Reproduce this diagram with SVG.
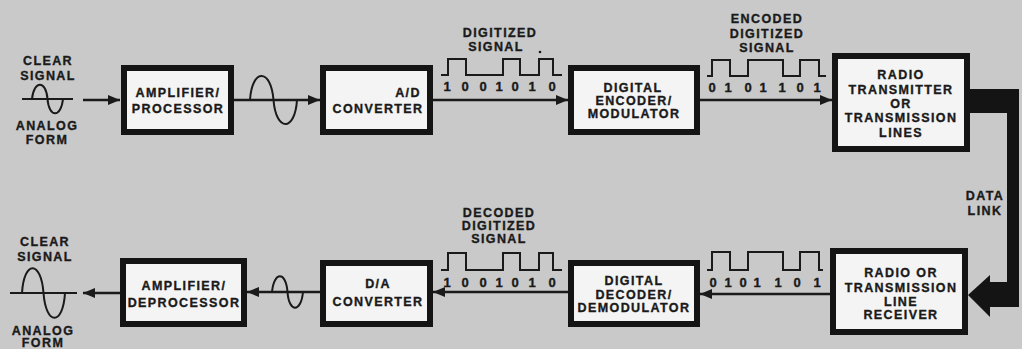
<svg xmlns="http://www.w3.org/2000/svg" width="1022" height="349" viewBox="0 0 1022 349">
<style>
.bg{fill:#c9c9c9}
.box{fill:#f4f4f4;stroke:#141414;stroke-width:6}
.t{font-family:"Liberation Sans",Arial,sans-serif;font-weight:bold;font-size:12.5px;letter-spacing:1.4px;fill:#1a1a1a;stroke:#1a1a1a;stroke-width:0.35;text-anchor:middle}
.d{font-family:"Liberation Sans",Arial,sans-serif;font-weight:bold;font-size:13px;fill:#1a1a1a;stroke:#1a1a1a;stroke-width:0.35;text-anchor:middle}
.ln{fill:none;stroke:#1a1a1a;stroke-width:2.5}
.wv{fill:none;stroke:#1a1a1a;stroke-width:2}
.link{fill:#141414}
</style>
<defs>
<marker id="ah" markerUnits="userSpaceOnUse" markerWidth="13" markerHeight="11" refX="12" refY="5" orient="auto">
<path d="M0,0 L12,5 L0,10 z" fill="#1a1a1a"/>
</marker>
</defs>
<rect class="bg" x="0" y="0" width="1022" height="349"/>

<g id="clear-in">
<text class="t" x="48" y="65">CLEAR</text>
<text class="t" x="48" y="80">SIGNAL</text>
<path class="wv" d="M22,99 H73"/>
<path class="wv" d="M32,99 C34,80 46,80 47.5,99 C49,118 61,118 63,99"/>
<text class="t" x="47" y="130">ANALOG</text>
<text class="t" x="47" y="144">FORM</text>
</g>

<g id="amp-proc">
<rect class="box" x="124" y="68" width="107" height="64"/>
<text class="t" x="178" y="97">AMPLIFIER/</text>
<text class="t" x="178" y="113">PROCESSOR</text>
</g>

<g id="ad-conv">
<rect class="box" x="323" y="68" width="107" height="64"/>
<text class="t" x="408" y="97">A/D</text>
<text class="t" x="378" y="113">CONVERTER</text>
</g>

<g id="digitized-signal">
<text class="t" x="500" y="37">DIGITIZED</text>
<text class="t" x="496" y="51">SIGNAL</text>
<circle cx="540" cy="52" r="1.3" fill="#1a1a1a"/>
<path class="wv" d="M441,75 H448 V59 H466 V75 H503 V59 H520 V75 H539 V59 H553 V75 H562"/>
<text class="d" x="447" y="91">1</text><text class="d" x="465" y="91">0</text><text class="d" x="483" y="91">0</text><text class="d" x="499" y="91">1</text><text class="d" x="515" y="91">0</text><text class="d" x="532" y="91">1</text><text class="d" x="552" y="91">0</text>
</g>

<g id="encoder">
<rect class="box" x="571" y="68" width="126" height="64"/>
<text class="t" x="633" y="92">DIGITAL</text>
<text class="t" x="634" y="105">ENCODER/</text>
<text class="t" x="634" y="118">MODULATOR</text>
</g>

<g id="encoded-signal">
<text class="t" x="767" y="23">ENCODED</text>
<text class="t" x="767" y="38">DIGITIZED</text>
<text class="t" x="767" y="52">SIGNAL</text>
<path class="wv" d="M707,76 H712 V60 H730 V76 H748 V60 H783 V76 H800 V60 H819 V76 H826"/>
<text class="d" x="712" y="92">0</text><text class="d" x="728" y="92">1</text><text class="d" x="748" y="92">0</text><text class="d" x="763" y="92">1</text><text class="d" x="782" y="92">1</text><text class="d" x="800" y="92">0</text><text class="d" x="817" y="92">1</text>
</g>

<g id="transmitter">
<rect class="box" x="835" y="56" width="132" height="93"/>
<text class="t" x="901" y="79">RADIO</text>
<text class="t" x="901" y="94">TRANSMITTER</text>
<text class="t" x="901" y="108">OR</text>
<text class="t" x="901" y="122">TRANSMISSION</text>
<text class="t" x="901" y="137">LINES</text>
</g>

<g id="data-link">
<path class="link" d="M969,89 H1019 V307 H990 V317 L968,295 L990,275 V282 H1007 V113 H969 Z"/>
<text class="t" x="985" y="200">DATA</text>
<text class="t" x="985" y="215">LINK</text>
</g>

<g id="receiver">
<rect class="box" x="833" y="251" width="132" height="81"/>
<text class="t" x="901" y="277">RADIO OR</text>
<text class="t" x="901" y="292">TRANSMISSION</text>
<text class="t" x="901" y="306">LINE</text>
<text class="t" x="901" y="319">RECEIVER</text>
</g>

<g id="encoded-signal-rx">
<path class="wv" d="M707,270 H712 V252 H730 V270 H748 V252 H783 V270 H800 V252 H819 V270 H823"/>
<text class="d" x="713" y="287">0</text><text class="d" x="728" y="287">1</text><text class="d" x="743" y="287">0</text><text class="d" x="757" y="287">1</text><text class="d" x="778" y="287">1</text><text class="d" x="797" y="287">0</text><text class="d" x="817" y="287">1</text>
</g>

<g id="decoder">
<rect class="box" x="571" y="263" width="126" height="61"/>
<text class="t" x="634" y="285">DIGITAL</text>
<text class="t" x="634" y="299">DECODER/</text>
<text class="t" x="634" y="312">DEMODULATOR</text>
</g>

<g id="decoded-signal">
<text class="t" x="499" y="217">DECODED</text>
<text class="t" x="499" y="230">DIGITIZED</text>
<text class="t" x="499" y="243">SIGNAL</text>
<path class="wv" d="M441,270 H448 V253 H466 V270 H503 V253 H520 V270 H539 V253 H553 V270 H562"/>
<text class="d" x="447" y="287">1</text><text class="d" x="465" y="287">0</text><text class="d" x="483" y="287">0</text><text class="d" x="499" y="287">1</text><text class="d" x="515" y="287">0</text><text class="d" x="532" y="287">1</text><text class="d" x="552" y="287">0</text>
</g>

<g id="da-conv">
<rect class="box" x="323" y="263" width="107" height="61"/>
<text class="t" x="378" y="288">D/A</text>
<text class="t" x="378" y="306">CONVERTER</text>
</g>

<g id="amp-deproc">
<rect class="box" x="123" y="261" width="121" height="63"/>
<text class="t" x="184" y="290">AMPLIFIER/</text>
<text class="t" x="184" y="307">DEPROCESSOR</text>
</g>

<g id="clear-out">
<text class="t" x="45" y="246">CLEAR</text>
<text class="t" x="45" y="261">SIGNAL</text>
<path class="wv" d="M10,293 H77"/>
<path class="wv" d="M22,293 C24,260 41,260 43.5,293 C46,326 63,326 65,293"/>
<text class="t" x="43" y="335">ANALOG</text>
<text class="t" x="43" y="347">FORM</text>
</g>

<g id="connectors">
<path class="ln" d="M83,100 H120" marker-end="url(#ah)"/>
<path class="ln" d="M234,100 H320" marker-end="url(#ah)"/>
<path class="wv" d="M250,100 C252,68 271,68 273.5,100 C276,132 295,132 297,100"/>
<path class="ln" d="M433,100 H568" marker-end="url(#ah)"/>
<path class="ln" d="M700,100 H832" marker-end="url(#ah)"/>
<path class="ln" d="M830,294 H700" marker-end="url(#ah)"/>
<path class="ln" d="M568,292 H433" marker-end="url(#ah)"/>
<path class="ln" d="M320,292 H247" marker-end="url(#ah)"/>
<path class="wv" d="M272,292 C274,271 286,271 287.5,292 C289,313 301,313 303,292"/>
<path class="ln" d="M120,293 H83" marker-end="url(#ah)"/>
</g>
</svg>
